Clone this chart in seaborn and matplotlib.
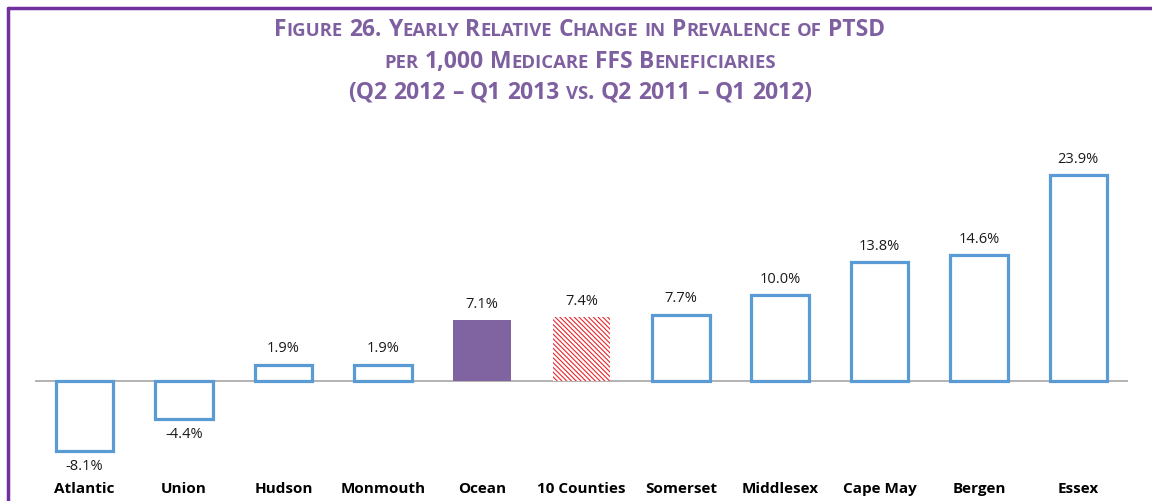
import matplotlib
matplotlib.use('Agg')
import matplotlib.pyplot as plt
import seaborn as sns
import pandas as pd
from matplotlib.offsetbox import TextArea, HPacker, AnchoredOffsetbox
from matplotlib.lines import Line2D

# data
counties = ['Atlantic', 'Union', 'Hudson', 'Monmouth', 'Ocean', '10 Counties',
            'Somerset', 'Middlesex', 'Cape May', 'Bergen', 'Essex']
change = [-8.1, -4.4, 1.9, 1.9, 7.1, 7.4, 7.7, 10.0, 13.8, 14.6, 23.9]
value_labels = [f'{v:.1f}%' for v in change]
title_lines = ['Figure 26. Yearly Relative Change in Prevalence of PTSD',
               'per 1,000 Medicare FFS Beneficiaries',
               '(Q2 2012 \u2013 Q1 2013 vs. Q2 2011 \u2013 Q1 2012)']

TITLE_COLOR = '#7E5FA0'
FRAME_COLOR = '#7030A0'
BAR_EDGE = '#5B9BD5'

sns.set_theme(style='white')
plt.rcParams['font.family'] = ['Open Sans', 'DejaVu Sans']
plt.rcParams['hatch.linewidth'] = 0.8

df = pd.DataFrame({'county': counties, 'change': change})

fig = plt.figure(figsize=(11.52, 5.01), dpi=100)
ax = fig.add_axes([35 / 1152, 34 / 501, 1093 / 1152, 327 / 501])
ax.axhline(0, color='#A6A6A6', lw=1.2, zorder=0)
sns.barplot(data=df, x='county', y='change', order=counties, width=0.58,
            color='white', saturation=1, ax=ax, zorder=2)

for p, name in zip(ax.patches, counties):
    if name == 'Ocean':
        p.set_facecolor('#8064A2')
        p.set_edgecolor('none')
        p.set_linewidth(0)
    elif name == '10 Counties':
        p.set_facecolor('white')
        p.set_edgecolor('#E8262B')
        p.set_linewidth(0)
        p.set_hatch('\\' * 7)
    else:
        p.set_facecolor('white')
        p.set_edgecolor(BAR_EDGE)
        p.set_linewidth(2.3)

ax.bar_label(ax.containers[0], labels=value_labels, padding=6, fontsize=10.5,
             color='#1a1a1a')

ax.set_xlim(-0.5, 10.5)
ax.set_ylim(-10, 28)
ax.set_yticks([])
ax.set_xlabel('')
ax.set_ylabel('')
ax.tick_params(axis='x', length=0, pad=11)
for lbl in ax.get_xticklabels():
    lbl.set_fontweight('bold')
    lbl.set_fontsize(11)
    lbl.set_color('black')
sns.despine(ax=ax, left=True, bottom=True)


# title in small caps built from pieces of text
def small_caps_line(text, big=16.5, small=13.3):
    words = []
    for word in text.split(' '):
        runs = []
        cur, cur_small = '', None
        for ch in word:
            s = ch.islower()
            if cur and s != cur_small:
                runs.append((cur, cur_small))
                cur = ''
            cur += ch
            cur_small = s
        runs.append((cur, cur_small))
        areas = [TextArea(r.upper(), textprops=dict(fontsize=small if s else big,
                                                     fontweight='bold', color=TITLE_COLOR))
                 for r, s in runs]
        words.append(HPacker(children=areas, sep=0, pad=0, align='baseline'))
    return HPacker(children=words, sep=4.5, pad=0, align='baseline')


for line, y in zip(title_lines, [30, 62, 93]):
    box = AnchoredOffsetbox(loc='center', child=small_caps_line(line), frameon=False,
                            pad=0, borderpad=0, bbox_to_anchor=(580 / 1152, 1 - y / 501),
                            bbox_transform=fig.transFigure)
    fig.add_artist(box)

# frame on top and left
fig.add_artist(Line2D([8 / 1152, 1], [1 - 8 / 501] * 2, transform=fig.transFigure,
                      color=FRAME_COLOR, lw=2.5))
fig.add_artist(Line2D([8 / 1152] * 2, [0, 1 - 8 / 501], transform=fig.transFigure,
                      color=FRAME_COLOR, lw=2.5))

fig.savefig('out.png', dpi=100)
